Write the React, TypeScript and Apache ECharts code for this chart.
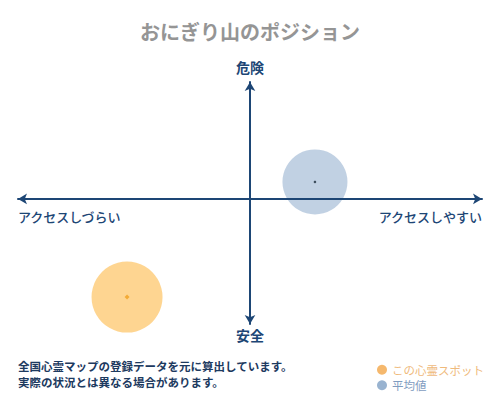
import { useEffect, useRef } from "react";
import * as echarts from "echarts";

const spotNames = ["この心霊スポット", "平均値"];
const accessValues = [-53, 28];
const dangerValues = [-84, 14.5];
const axisLabels = { top: "危険", bottom: "安全", left: "アクセスしづらい", right: "アクセスしやすい" };
const titleText = "おにぎり山のポジション";
const noteLines = ["全国心霊マップの登録データを元に算出しています。", "実際の状況とは異なる場合があります。"];

const font = "'Noto Sans CJK JP', 'Noto Sans', sans-serif";
const navy = "#1d4675";

export default function App() {
  const chartRef = useRef<HTMLDivElement | null>(null);

  useEffect(() => {
    if (!chartRef.current) {
      return;
    }

    const chart = echarts.init(chartRef.current, undefined, { renderer: "svg" });
    chart.setOption({
      animation: false,
      textStyle: { fontFamily: font },
      title: {
        text: titleText,
        left: "center",
        top: 16,
        textStyle: { color: "#959595", fontSize: 20, fontWeight: "bold", fontFamily: font }
      },
      grid: { left: 18, right: 18, top: 82, bottom: 76 },
      xAxis: {
        type: "value",
        min: -100,
        max: 100,
        z: 5,
        axisLine: {
          onZero: true,
          symbol: ["arrow", "arrow"],
          symbolSize: [8, 9],
          lineStyle: { color: navy, width: 2 }
        },
        axisTick: { show: false },
        axisLabel: { show: false },
        splitLine: { show: false }
      },
      yAxis: {
        type: "value",
        min: -107,
        max: 100,
        z: 5,
        axisLine: {
          onZero: true,
          symbol: ["arrow", "arrow"],
          symbolSize: [8, 9],
          lineStyle: { color: navy, width: 2 }
        },
        axisTick: { show: false },
        axisLabel: { show: false },
        splitLine: { show: false }
      },
      legend: {
        orient: "vertical",
        left: 372,
        top: 359,
        itemGap: 4,
        itemWidth: 10,
        itemHeight: 10,
        icon: "circle",
        textStyle: { fontSize: 11.5, fontFamily: font },
        data: [
          { name: spotNames[0], itemStyle: { color: "#f3a648" }, textStyle: { color: "#efba7c" } },
          { name: spotNames[1], itemStyle: { color: "#7fa0c4" }, textStyle: { color: "#7f9cc0" } }
        ]
      },
      series: [
        {
          name: spotNames[0],
          type: "scatter",
          symbolSize: 71,
          itemStyle: { color: "#fecb76" },
          data: [[accessValues[0], dangerValues[0]]]
        },
        {
          name: spotNames[1],
          type: "scatter",
          symbolSize: 65,
          itemStyle: { color: "#b2c5dc" },
          data: [[accessValues[1], dangerValues[1]]]
        },
        {
          name: "spot-center",
          type: "scatter",
          symbol: "diamond",
          symbolSize: 5,
          z: 3,
          itemStyle: { color: "#f0a020" },
          data: [[accessValues[0], dangerValues[0]]]
        },
        {
          name: "avg-center",
          type: "scatter",
          symbolSize: 2.5,
          z: 3,
          itemStyle: { color: "#1a2a3a" },
          data: [[accessValues[1], dangerValues[1]]]
        }
      ],
      graphic: [
        {
          type: "text",
          x: 250,
          y: 67,
          style: { text: axisLabels.top, fill: navy, font: `bold 14px ${font}`, textAlign: "center", textVerticalAlign: "middle" }
        },
        {
          type: "text",
          x: 250,
          y: 335,
          style: { text: axisLabels.bottom, fill: navy, font: `bold 14px ${font}`, textAlign: "center", textVerticalAlign: "middle" }
        },
        {
          type: "text",
          x: 18,
          y: 216,
          style: { text: axisLabels.left, fill: navy, font: `500 13px ${font}`, textAlign: "left", textVerticalAlign: "middle" }
        },
        {
          type: "text",
          x: 482,
          y: 216,
          style: { text: axisLabels.right, fill: navy, font: `500 13px ${font}`, textAlign: "right", textVerticalAlign: "middle" }
        },
        {
          type: "text",
          x: 18,
          y: 366,
          style: { text: noteLines[0], fill: "#1d3a5f", font: `bold 11.5px ${font}`, textAlign: "left", textVerticalAlign: "middle" }
        },
        {
          type: "text",
          x: 18,
          y: 382,
          style: { text: noteLines[1], fill: "#1d3a5f", font: `bold 11.5px ${font}`, textAlign: "left", textVerticalAlign: "middle" }
        }
      ]
    });

    return () => {
      chart.dispose();
    };
  }, []);

  return <div ref={chartRef} style={{ position: "fixed", left: 0, top: 0, width: 500, height: 400, background: "#fff" }} />;
}
